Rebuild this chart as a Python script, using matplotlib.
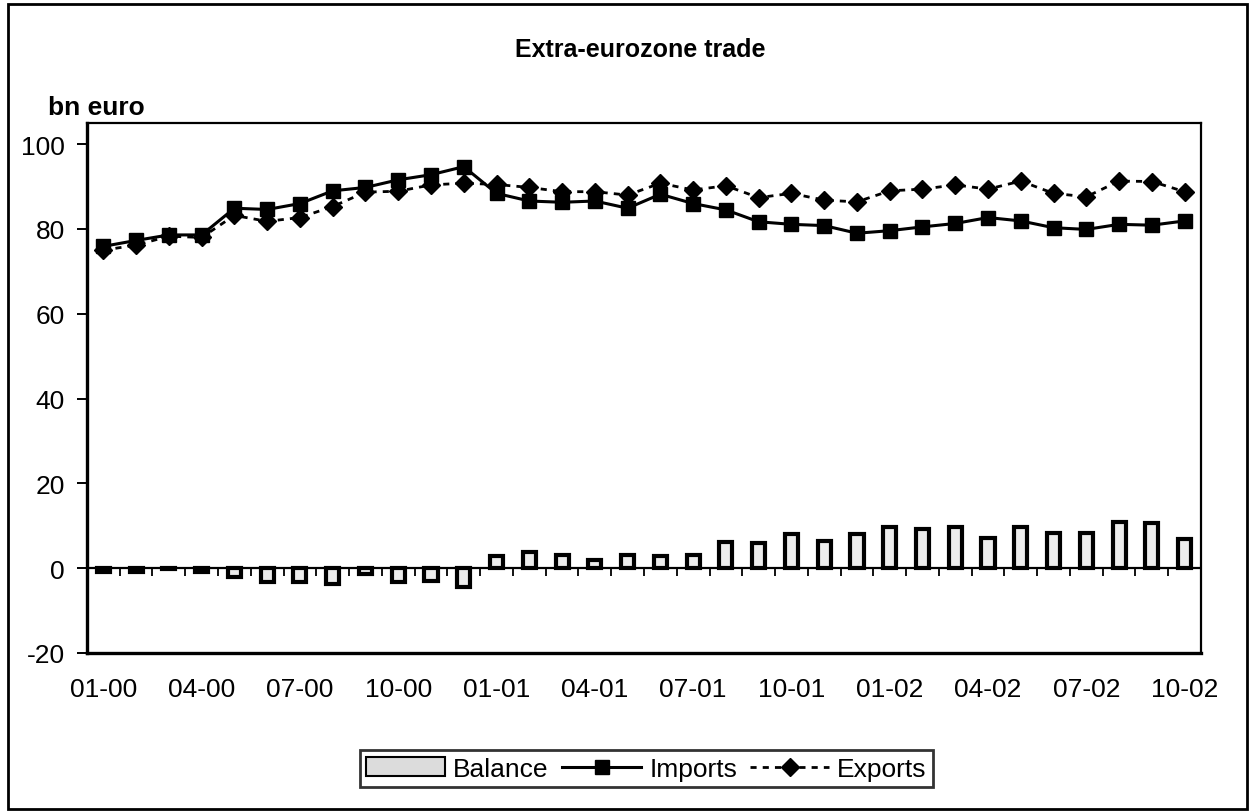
import numpy as np
import matplotlib
matplotlib.use("Agg")
import matplotlib.pyplot as plt
from matplotlib.patches import Rectangle
from matplotlib.lines import Line2D

plt.rcParams["font.family"] = ["Liberation Sans", "DejaVu Sans"]
plt.rcParams["axes.unicode_minus"] = False

months = ["01-00", "02-00", "03-00", "04-00", "05-00", "06-00", "07-00", "08-00",
          "09-00", "10-00", "11-00", "12-00", "01-01", "02-01", "03-01", "04-01",
          "05-01", "06-01", "07-01", "08-01", "09-01", "10-01", "11-01", "12-01",
          "01-02", "02-02", "03-02", "04-02", "05-02", "06-02", "07-02", "08-02",
          "09-02", "10-02"]

imports = [75.9, 77.3, 78.6, 78.6, 84.9, 84.6, 86.0, 89.0, 89.8, 91.6, 92.8, 94.7,
           88.4, 86.6, 86.3, 86.6, 84.9, 88.2, 86.0, 84.5, 81.7, 81.1, 80.8, 79.0,
           79.6, 80.5, 81.3, 82.7, 81.9, 80.3, 79.9, 81.1, 80.9, 81.9]

exports = [75.0, 76.2, 78.3, 78.0, 83.2, 81.8, 82.7, 85.3, 88.7, 88.9, 90.4, 90.8,
           90.5, 89.8, 88.8, 88.8, 88.0, 90.8, 89.2, 90.2, 87.4, 88.4, 86.8, 86.4,
           89.0, 89.4, 90.4, 89.4, 91.3, 88.4, 87.6, 91.3, 91.2, 88.8]

balance = [-0.9, -1.0, -0.3, -0.9, -2.0, -3.3, -3.3, -3.7, -1.4, -3.3, -3.0, -4.5,
           2.8, 3.7, 3.0, 2.0, 3.2, 2.8, 3.2, 6.1, 6.0, 8.0, 6.3, 8.0,
           9.8, 9.2, 9.6, 7.1, 9.8, 8.3, 8.3, 10.8, 10.6, 7.0]

x = np.arange(len(months))

fig = plt.figure(figsize=(12.53, 8.12), dpi=100)
ax = fig.add_axes([0.0694, 0.1946, 0.8891, 0.6527])

ax.bar(x, balance, width=0.4, color="#ececec", edgecolor="black", linewidth=3.0,
       zorder=2)
ax.plot(x, imports, color="black", lw=2.2, marker="s", markersize=10, zorder=3)
ax.plot(x, exports, color="black", lw=2.0, ls=(0, (2.2, 2.2)), marker="D",
        markersize=9, zorder=3)

# category axis crossing at zero, ticks at category boundaries
ax.axhline(0, color="black", lw=1.6, zorder=2.5)
ax.vlines(np.arange(len(months) + 1) - 0.5, -1.9, 0, color="black", lw=1.3)

ax.set_xlim(-0.5, len(months) - 0.5)
ax.set_ylim(-20, 105)
ax.set_yticks(np.arange(-20, 101, 20))
ax.set_xticks(x[::3])
ax.set_xticklabels(months[::3])
ax.tick_params(axis="x", length=0, pad=17, labelsize=19)
ax.tick_params(axis="y", length=7, width=1.4, direction="out", pad=9, labelsize=19)

for side in ["left", "bottom"]:
    ax.spines[side].set_linewidth(2.4)
for side in ["top", "right"]:
    ax.spines[side].set_linewidth(1.6)

fig.text(0.511, 0.938, "Extra-eurozone trade", ha="center", va="center",
         fontsize=18, fontweight="bold")
fig.text(0.038, 0.867, "bn euro", ha="left", va="center", fontsize=19,
         fontweight="bold")

handles = [
    Rectangle((0, 0), 1, 1, facecolor="#dcdcdc", edgecolor="black", lw=1.5),
    Line2D([], [], color="black", lw=2.2, marker="s", markersize=10),
    Line2D([], [], color="black", lw=2.0, ls=(0, (2.2, 2.2)), marker="D",
           markersize=9),
]
leg = fig.legend(handles, ["Balance", "Imports", "Exports"], loc="center",
                 bbox_to_anchor=(0.516, 0.052), ncol=3, fontsize=19,
                 handlelength=3.0, handletextpad=0.3, columnspacing=0.5,
                 fancybox=False, edgecolor="black", borderpad=0.25)
leg.get_frame().set_linewidth(2)

fig.patches.append(Rectangle((0.006, 0.003), 0.989, 0.991, transform=fig.transFigure,
                             fill=False, edgecolor="black", lw=2))

fig.savefig("out.png", dpi=100)
